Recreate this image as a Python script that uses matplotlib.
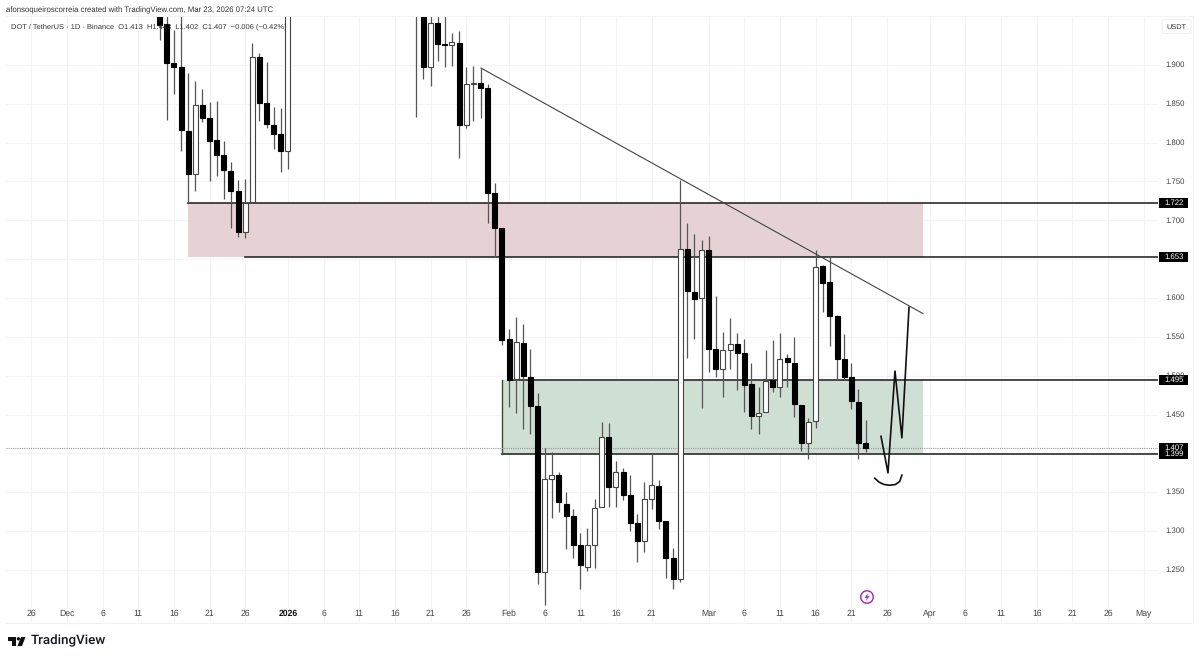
import matplotlib
matplotlib.use("Agg")
import matplotlib.pyplot as plt
from matplotlib.patches import Polygon, Ellipse, Rectangle, FancyBboxPatch

plt.rcParams['font.family'] = ['Liberation Sans', 'DejaVu Sans']
plt.rcParams['text.hinting'] = 'none'

# day number, 0 = 1 Jan 2026
first_days = list(range(-18, 1))
first_open = [1.971, 1.953, 1.903, 1.897, 1.815, 1.760, 1.849, 1.832, 1.803, 1.784, 1.764, 1.738, 1.685, 1.724, 1.910,
              1.851, 1.823, 1.811, 1.789]
first_high = [1.984, 1.971, 1.945, 1.971, 1.890, 1.879, 1.869, 1.852, 1.854, 1.802, 1.775, 1.752, 1.753, 1.928, 1.915,
              1.904, 1.846, 1.845, 2.020]
first_low = [1.932, 1.829, 1.863, 1.789, 1.722, 1.738, 1.827, 1.751, 1.757, 1.727, 1.690, 1.679, 1.677, 1.722, 1.828,
             1.819, 1.792, 1.762, 1.766]
first_close = [1.951, 1.903, 1.897, 1.816, 1.760, 1.849, 1.832, 1.802, 1.784, 1.765, 1.738, 1.685, 1.722, 1.910, 1.851,
               1.824, 1.811, 1.789, 2.000]

# the candles between are above the visible range
second_days = list(range(18, 82))
second_open = [2.020, 1.985, 1.897, 1.954, 1.927, 1.926, 1.928, 1.823, 1.876, 1.877, 1.870, 1.735, 1.690, 1.547, 1.496,
               1.542, 1.498, 1.461, 1.247, 1.367, 1.372, 1.335, 1.320, 1.282, 1.254, 1.282, 1.331, 1.421, 1.357, 1.376,
               1.347, 1.311, 1.287, 1.341, 1.358, 1.313, 1.265, 1.238, 1.663, 1.608, 1.600, 1.662, 1.534, 1.509, 1.533,
               1.541, 1.529, 1.489, 1.448, 1.453, 1.495, 1.486, 1.523, 1.516, 1.462, 1.413, 1.442, 1.641, 1.621, 1.577,
               1.522, 1.498, 1.466, 1.413]
second_high = [2.030, 2.000, 1.980, 1.980, 1.980, 1.941, 1.944, 1.897, 1.899, 1.896, 1.875, 1.748, 1.690, 1.560, 1.576,
               1.567, 1.534, 1.478, 1.407, 1.402, 1.376, 1.350, 1.329, 1.298, 1.304, 1.341, 1.441, 1.439, 1.390, 1.381,
               1.372, 1.322, 1.363, 1.399, 1.366, 1.313, 1.278, 1.752, 1.697, 1.682, 1.675, 1.680, 1.603, 1.556, 1.574,
               1.555, 1.547, 1.516, 1.486, 1.533, 1.546, 1.555, 1.528, 1.550, 1.462, 1.446, 1.662, 1.643, 1.654, 1.578,
               1.554, 1.516, 1.483, 1.443]
second_low = [1.833, 1.882, 1.873, 1.905, 1.897, 1.899, 1.780, 1.819, 1.828, 1.832, 1.697, 1.653, 1.540, 1.460, 1.452,
              1.432, 1.425, 1.232, 1.205, 1.317, 1.325, 1.277, 1.265, 1.226, 1.249, 1.253, 1.331, 1.331, 1.331, 1.340,
              1.300, 1.260, 1.273, 1.329, 1.303, 1.240, 1.226, 1.235, 1.523, 1.547, 1.459, 1.505, 1.498, 1.473, 1.509,
              1.482, 1.453, 1.432, 1.425, 1.453, 1.479, 1.473, 1.486, 1.447, 1.403, 1.393, 1.433, 1.582, 1.538, 1.495,
              1.495, 1.457, 1.393, 1.402]
second_close = [1.971, 1.897, 1.954, 1.927, 1.926, 1.930, 1.823, 1.875, 1.876, 1.870, 1.735, 1.690, 1.546, 1.495, 1.543,
                1.500, 1.461, 1.247, 1.367, 1.372, 1.338, 1.320, 1.282, 1.256, 1.282, 1.330, 1.421, 1.357, 1.376, 1.347,
                1.311, 1.287, 1.341, 1.359, 1.313, 1.265, 1.238, 1.663, 1.609, 1.599, 1.662, 1.534, 1.509, 1.533, 1.541,
                1.529, 1.488, 1.448, 1.452, 1.493, 1.486, 1.522, 1.518, 1.464, 1.413, 1.441, 1.640, 1.619, 1.577, 1.522,
                1.498, 1.468, 1.413, 1.407]

days = first_days + second_days
opens = first_open + second_open
highs = first_high + second_high
lows = first_low + second_low
closes = first_close + second_close

x_ticks = [-36, -31, -26, -21, -16, -11, -6, 0, 5, 10, 15, 20, 25, 31, 36, 41, 46, 51, 59, 64, 69, 74, 79, 84, 90, 95,
           100, 105, 110, 115, 120]
x_labels = ['26', 'Dec', '6', '11', '16', '21', '26', '2026', '6', '11', '16', '21', '26', 'Feb', '6', '11', '16', '21',
            'Mar', '6', '11', '16', '21', '26', 'Apr', '6', '11', '16', '21', '26', 'May']
y_ticks = [1.25, 1.30, 1.35, 1.40, 1.45, 1.50, 1.55, 1.60, 1.65, 1.70, 1.75, 1.80, 1.85, 1.90]

level_labels = [1.722, 1.653, 1.495, 1.399, 1.407]
trend_x = [27.07, 89.06]
trend_y = [1.896, 1.580]
sketch_x = [83.17, 84.15, 85.13, 86.1, 87.1]
sketch_y = [1.422, 1.375, 1.506, 1.420, 1.588]
smile_x = [82.3, 82.9, 83.6, 84.4, 85.2, 85.8, 86.1]
smile_y = [1.368, 1.363, 1.360, 1.359, 1.360, 1.364, 1.372]

W, H = 1200, 659
fig = plt.figure(figsize=(W / 100, H / 100), dpi=100)
ax = fig.add_axes([6 / W, 1 - 622 / H, 1152 / W, 606 / H])
ax.set_xlim(-39.55, 122.02)
ax.set_ylim(1.183, 1.963)
ax.patch.set_alpha(0)
for s in ax.spines.values():
    s.set_visible(False)

# grid
ax.set_xticks(x_ticks)
ax.set_yticks(y_ticks)
ax.tick_params(length=0, labelbottom=False, labelleft=False)
ax.grid(True, color='#f3f4f6', lw=0.8)
ax.set_axisbelow(True)

# zones
ax.fill_between([-14, 89], 1.653, 1.722, color='#e6d2d4', lw=0, zorder=1)
ax.fill_between([30, 89], 1.399, 1.495, color='#d0dfd3', lw=0, zorder=1)
line_c = '#2b2b2b'
ax.plot([-14, 122.02], [1.722, 1.722], color=line_c, lw=1.2, zorder=2)
ax.plot([-6, 122.02], [1.653, 1.653], color=line_c, lw=1.2, zorder=2)
ax.plot([31, 122.02], [1.495, 1.495], color=line_c, lw=1.2, zorder=2)
ax.plot([30, 122.02], [1.399, 1.399], color=line_c, lw=1.2, zorder=2)
ax.plot([30, 30], [1.399, 1.495], color='#3b4a3e', lw=1, zorder=2)
ax.axhline(1.407, color='#9a9a9a', lw=0.8, ls=(0, (1, 1)), zorder=2)

# candles
for d, o, h, l, c in zip(days, opens, highs, lows, closes):
    ax.plot([d, d], [l, h], color='#555555', lw=0.9, zorder=3, solid_capstyle='butt')
    up = c >= o
    ax.bar(d, max(abs(c - o), 0.0008), 0.7, bottom=min(o, c), color='white' if up else 'black',
           edgecolor='#444444' if up else 'black', lw=0.8, zorder=4)

ax.plot(trend_x, trend_y, color='#444444', lw=0.8, zorder=5)
ax.plot(sketch_x, sketch_y, color='#111111', lw=1.2, zorder=5)
ax.plot(smile_x, smile_y, color='#111111', lw=1.2, zorder=5)


def px_text(x, y, s, **kw):
    fig.text(x / W, 1 - y / H, s, va='center', **kw)


def px_poly(points, color):
    fig.add_artist(Polygon([(x / W, 1 - y / H) for x, y in points], closed=True, transform=fig.transFigure, fc=color,
                           ec='none'))


# header text, the candles sit on top of the legend line
px_text(6.5, 10.5, 'afonsoqueiroscorreia created with TradingView.com, Mar 23, 2026 07:24 UTC', fontsize=5.6,
        color='#333333', ha='left')
fig.text(11 / W, 1 - 27 / H, 'DOT / TetherUS · 1D · Binance  O1.413  H1.443  L1.402  C1.407  −0.006 (−0.42%)',
         fontsize=5.4, color='#333333', ha='left', va='center', zorder=0)

# frame
fig.add_artist(plt.Line2D([6 / W, 1192 / W], [1 - 622.5 / H] * 2, color='#f0f0f0', lw=0.8))
fig.add_artist(plt.Line2D([6 / W, 1192 / W], [1 - 16 / H] * 2, color='#f3f3f3', lw=0.8))
fig.add_artist(plt.Line2D([1192.5 / W] * 2, [1 - 16 / H, 1 - 622 / H], color='#f3f3f3', lw=0.8))

# time axis
for d, lab in zip(x_ticks, x_labels):
    px = 288 + d * 7.13
    px_text(px, 614, lab, fontsize=6.2, ha='center', color='#111111' if lab == '2026' else '#444444',
            fontweight='bold' if lab == '2026' else 'normal')

# price axis
for p in y_ticks:
    if p in (1.40, 1.65):
        continue
    px_text(1174.7, 65 + (1.9 - p) * 777, '%.3f' % p, fontsize=5.6, ha='center', color='#444444')
for p in level_labels:
    py = 65 + (1.9 - p) * 777
    fig.add_artist(Rectangle((1159 / W, 1 - (py + 5) / H), 28.5 / W, 10 / H, transform=fig.transFigure,
                             color='black', lw=0))
    px_text(1174, py, '%.3f' % p, fontsize=5.6, ha='center', color='white')
fig.add_artist(FancyBboxPatch((1162 / W, 1 - 33.5 / H), 29 / W, 14 / H, transform=fig.transFigure, fc='white',
                              ec='#f1f1f1', lw=0.8, boxstyle='round,pad=0,rounding_size=0.002'))
px_text(1176.5, 27, 'USDT', fontsize=5.3, ha='center', color='#333333')

# lightning marker
fig.add_artist(Ellipse((867 / W, 1 - 597 / H), 12.5 / W, 12.5 / H, transform=fig.transFigure, fc='white', ec='#9c27b0',
                       lw=1))
px_poly([(868.5, 592.5), (864.5, 597.8), (867, 597.8), (865.5, 601.5), (869.5, 596.2), (867, 596.2)], '#9c27b0')

# logo
px_poly([(8, 637), (16, 637), (16, 646), (12, 646), (12, 640.5), (8, 640.5)], '#111111')
px_poly([(21, 637), (25.5, 637), (22, 646), (17.5, 646)], '#111111')
fig.add_artist(Ellipse((18.4 / W, 1 - 638.8 / H), 3.4 / W, 3.4 / H, transform=fig.transFigure, fc='#111111', ec='none'))
px_text(31, 641, 'TradingView', fontsize=9.6, ha='left', color='#131722', fontfamily='Roboto', fontweight='medium')

fig.savefig('out.png', dpi=100)
